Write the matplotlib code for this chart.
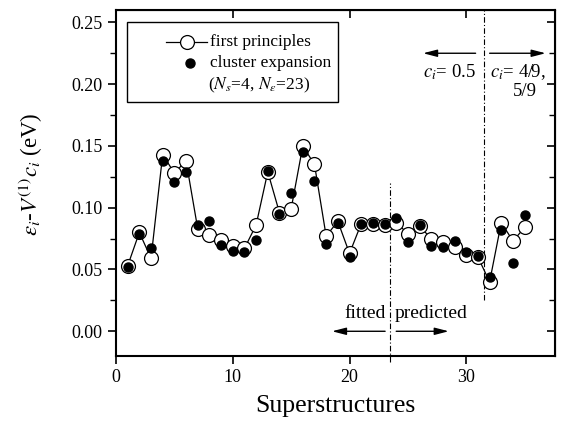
import numpy as np
import matplotlib
matplotlib.use("Agg")
import matplotlib.pyplot as plt
from matplotlib.patches import Rectangle
from matplotlib.ticker import MultipleLocator

plt.rcParams['font.family'] = ['Liberation Serif', 'DejaVu Serif']
plt.rcParams['mathtext.fontset'] = 'stix'

# superstructure index
structs = np.arange(1, 36)

# first principles (open circles, joined)
first_principles = [0.053, 0.080, 0.059, 0.143, 0.128, 0.138, 0.083, 0.078, 0.074, 0.069,
                    0.067, 0.086, 0.129, 0.096, 0.099, 0.150, 0.135, 0.077, 0.089, 0.063,
                    0.087, 0.087, 0.086, 0.088, 0.079, 0.085, 0.075, 0.072, 0.068, 0.062,
                    0.060, 0.040, 0.088, 0.073, 0.084]

# cluster expansion (filled circles)
cluster_exp = [0.052, 0.079, 0.067, 0.138, 0.121, 0.129, 0.086, 0.089, 0.070, 0.065,
               0.064, 0.074, 0.130, 0.095, 0.112, 0.145, 0.122, 0.071, 0.088, 0.060,
               0.087, 0.088, 0.087, 0.092, 0.072, 0.086, 0.069, 0.068, 0.073, 0.064,
               0.061, 0.044, 0.082, 0.055, 0.094]

legend_labels = ['first principles', 'cluster expansion', r'($N_s$=4, $N_\varepsilon$=23)']

fig = plt.figure(figsize=(5.65, 4.24), dpi=100)
ax = fig.add_axes([0.2053, 0.1604, 0.7770, 0.8160])

ax.plot(structs, first_principles, '-', color='black', lw=0.9, marker='o',
        ms=10, mfc='white', mec='black', mew=0.9, zorder=2)
ax.plot(structs, cluster_exp, 'o', color='black', ms=6.5, zorder=3)

# fitted / predicted boundary and concentration boundary
ax.plot([23.5, 23.5], [-0.025, 0.12], color='black', lw=0.8, ls=(0, (5, 2, 1, 2)),
        zorder=1, clip_on=False)
ax.plot([31.5, 31.5], [0.025, 0.26], color='black', lw=0.8, ls=(0, (5, 2, 1, 2)), zorder=1)

arr = dict(arrowstyle='-|>,head_length=0.7,head_width=0.18', color='black', lw=1.0,
           mutation_scale=12, shrinkA=0, shrinkB=0)
ax.annotate('', xy=(18.5, 0.0), xytext=(23.05, 0.0), arrowprops=arr)
ax.annotate('', xy=(28.5, 0.0), xytext=(24.0, 0.0), arrowprops=arr)
ax.text(23.1, 0.014, 'fitted', ha='right', va='center', fontsize=14)
ax.text(23.9, 0.014, 'predicted', ha='left', va='center', fontsize=14)

ax.annotate('', xy=(26.3, 0.225), xytext=(30.8, 0.225), arrowprops=arr)
ax.annotate('', xy=(36.8, 0.225), xytext=(32.0, 0.225), arrowprops=arr)
ax.text(30.8, 0.2098, '$c_i$= 0.5', ha='right', va='center', fontsize=13.5)
ax.text(32.0, 0.2098, '$c_i$= 4/9,', ha='left', va='center', fontsize=13.5)
ax.text(34.0, 0.1937, '5/9', ha='left', va='center', fontsize=13.5)

ax.set_xlim(0, 37.6)
ax.set_ylim(-0.02, 0.26)
ax.xaxis.set_major_locator(MultipleLocator(10))
ax.yaxis.set_minor_locator(MultipleLocator(0.025))
ax.set_yticks(np.arange(0, 0.26, 0.05))
ax.set_yticklabels(['%.2f' % v for v in np.arange(0, 0.26, 0.05)])
ax.tick_params(axis='both', which='major', direction='out', length=6, width=1.2,
               labelsize=13)
ax.tick_params(axis='both', which='minor', direction='out', length=4, width=1.0)
for s in ax.spines.values():
    s.set_linewidth(1.5)

# inward ticks on the top and right
axt = ax.secondary_xaxis('top')
axt.xaxis.set_major_locator(MultipleLocator(10))
axt.tick_params(direction='in', length=6, width=1.2, labeltop=False)
axr = ax.secondary_yaxis('right')
axr.set_yticks(np.arange(0, 0.26, 0.05))
axr.yaxis.set_minor_locator(MultipleLocator(0.025))
axr.tick_params(which='major', direction='in', length=6, width=1.2, labelright=False)
axr.tick_params(which='minor', direction='in', length=4, width=1.0)

ax.set_xlabel('Superstructures', fontsize=18.5, labelpad=6)
ax.set_ylabel(r'$\varepsilon_i$-$V^{(1)}c_i$ (eV)', fontsize=16.5)
ax.yaxis.set_label_coords(-0.162, 0.526)

# legend drawn by hand so the handles sit where the original has them
rows_y = [0.908, 0.847, 0.783]
ax.plot([0.114, 0.207], [rows_y[0], rows_y[0]], '-', color='black', lw=0.9,
        transform=ax.transAxes)
ax.plot([0.162], [rows_y[0]], 'o', ms=10, mfc='white', mec='black', mew=0.9,
        transform=ax.transAxes)
ax.plot([0.169], [rows_y[1]], 'o', ms=6.5, color='black', transform=ax.transAxes)
texts = []
for lab, yy, xx in zip(legend_labels, rows_y, [0.214, 0.214, 0.210]):
    texts.append(ax.text(xx, yy, lab, transform=ax.transAxes, ha='left', va='center',
                         fontsize=12.5))
fig.canvas.draw()
inv = ax.transAxes.inverted()
ext = [inv.transform(t.get_window_extent()) for t in texts]
right = max(e[1][0] for e in ext) + 0.015
bottom = ext[2][0][1] - 0.02
ax.add_patch(Rectangle((0.025, bottom), right - 0.025, 0.965 - bottom,
                       transform=ax.transAxes, fill=False, ec='black', lw=1.0))

fig.savefig('out.png', dpi=100)
